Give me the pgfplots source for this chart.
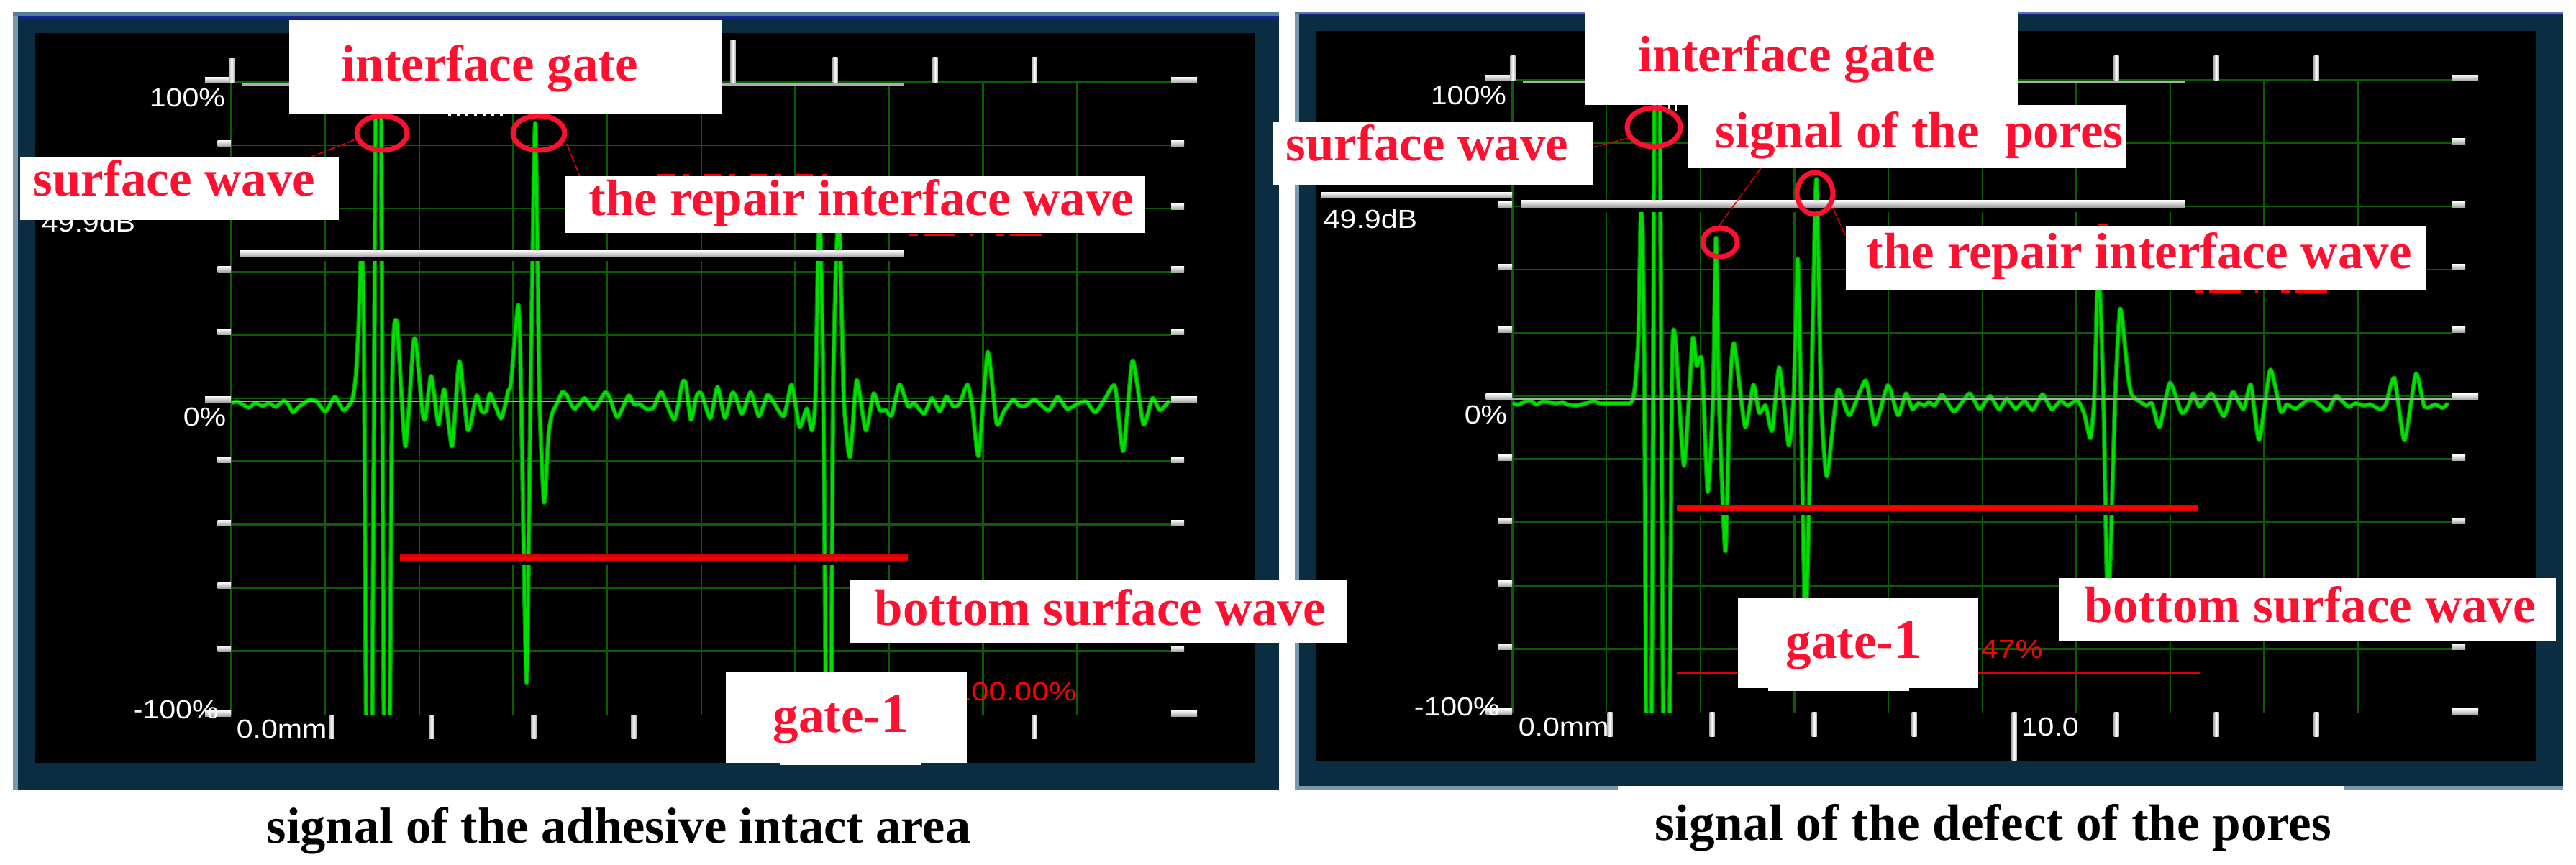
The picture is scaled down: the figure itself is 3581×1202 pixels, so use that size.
\documentclass[border=0pt]{standalone}
\usepackage{fontspec}
\setmainfont{Liberation Serif}
\newfontfamily\ls{Liberation Sans}
\usepackage{graphicx}
\usepackage{pgfplots}
\usepackage{pgfplotstable}
\pgfplotsset{compat=1.18}
\definecolor{teal0}{HTML}{0B2D42}
\definecolor{edge0}{HTML}{7A97AD}
\definecolor{edge1}{HTML}{5A7A9A}
\definecolor{dblue}{HTML}{14248C}
\definecolor{gridg}{HTML}{0A6000}
\definecolor{wave}{HTML}{00E000}
\definecolor{waved}{HTML}{008A00}
\definecolor{rtxt}{HTML}{FF1030}
\definecolor{rgate}{HTML}{E00000}
% x: px offset from the left grid line (139.5 px = 2 mm); y: percent of full screen
\pgfplotstableread{
u p
0 -1.5
8 -1.1
15 -1.9
25 -3.0
33 -1.5
44 -2.5
52 -1.5
62 -2.7
73 -0.8
79 -1.9
86 -4.5
94 -2.7
109 -0.5
119 -1.1
131 -4.2
144 0.4
156 -3.8
167 -1.1
171 2.7
174 9.5
177 23
180.5 46
183 40
185 0
191.5 -250
198.5 0
204.5 250
210 0
216 -250
223.5 0
230 24.2
242 -15.2
253 17
257 17
266 -4.9
270 -6.1
278 7
288 -8.3
296 2.8
307 -15.2
317 11.7
329 -10.2
341 0.8
348 -4.2
354 -4.2
360 1.5
375 -6.4
385 2.3
389 4.9
399 29.5
403 0
410.5 -90
416 0
422.5 87
428.5 0
435 -33
441 -11.7
446 -4.9
454 -1.1
460 1.9
466 1.1
477 -3.4
491 0
504 -3.4
520 1.9
527 -0.4
537 -6.1
552 0.8
560 -1.9
568 -1.9
577 -3.4
587 -3
598 1.9
616 -6.8
627 4.9
632 4.5
639 -6.8
647 0.8
653.5 1.5
666 -6.4
676 3.6
686 -6.3
696 1.5
701 0.8
710 -4.9
722 1.9
733.5 -5.7
745 0.9
751.5 -0.4
768 -5.7
779 4.3
790 -9.1
800 -3.3
807 -10.2
812 0
817.5 60
823 0
831 -200
836.5 0
844.5 60
851.5 0
860 -18.6
869.5 5.7
882 -10.2
893 1.5
901.5 -3.8
910 -3.8
918 -5.5
929 4.3
941 -2.7
949 -1.5
963 -4.9
974 0
985 -4.2
994 0.5
1003.5 -2.5
1012 -1.9
1023.5 4.3
1030.5 -3.4
1039 -18.2
1051.5 14.6
1064 -8
1074 -4.2
1087 -0.4
1095 -2.3
1103.5 -2.5
1116 -0.4
1126.5 -2.3
1137 -3.8
1149 0.4
1162 -3.4
1178.5 -1.5
1189 -1.1
1201 -4.5
1214 -0.4
1228.5 3.8
1240 -16.7
1253 11.9
1268 -8.3
1280.5 0
1291 -3.8
1304 -0.8
}\waveA
\pgfplotstableread{
u p
0 -2.3
8 -2.7
16 -1.9
25 -1.3
33 -2.7
43 -1.7
60 -2.3
70 -2
77 -2.7
89 -3
102 -2.3
114 -1.5
122 -2.3
162 -2.3
167.5 -0.8
170.5 3.4
175 18.6
178.5 57.7
181 50
183.5 0
190 -250
195.5 0
201 250
207 0
214 -250
221.5 0
226 19.3
238.5 -22
250.5 18
256 9.5
263.5 11.1
271.5 -30.3
279 0
283 50
287 0
296 -49
302 0
308 16.7
323.5 -9.8
335 3.6
343 -5.3
352 -3
361 -11
371 9.1
384 -15.5
391 0
396.5 43.4
401 0
407.5 -75
415.5 0
422.5 68.6
429 0
437 -25.4
452 1.9
468.5 -6.1
491 4.9
504 -9.1
522 3.4
536 -6.1
547 0.8
556 -4.2
564 -2.3
572.5 -3
579 -1.9
587 -3
597.5 0.4
614 -4.9
635 0.8
647.5 -3.8
651.5 -3.8
664 0
676.5 -4.2
687 -0.8
699.5 -4
712 -1.5
723 -4.5
737 0.5
749.5 -4.2
762 -1.5
772 -3
785.5 -1.3
795 -5.7
803.5 -13.3
809 0
814.5 42
821.5 0
828 -68
838 0
845 27.6
855.5 7
860 0.8
868 -1.1
881 -3
889 -2.3
899.5 -9.8
914 4.2
930 -5.3
939 -3.4
946.5 0.8
955.5 -3.4
972 0.8
989 -6.4
1001.5 1.3
1016 -4.2
1026.5 3.6
1038 -13.9
1053.5 8.3
1068 -4.9
1076.5 -2.7
1089 -4
1103.5 -1.5
1114 -1.3
1133 -4.5
1145 0
1162 -3.4
1172 -2.3
1183 -3
1193 -2.7
1206 -4.2
1214 -2.7
1226 5.7
1240 -14
1256 7
1268 -3.4
1283 -2.7
1293 -3.8
1300.5 -2.3
}\waveB
\pgfplotsset{screen/.style={
  scale only axis,width=326.625pt,height=219.875pt,
  anchor=south west,
  xmin=0,xmax=1306.5,ymin=-100,ymax=100,
  xtick={0,130.65,261.3,391.95,522.6,653.25,783.9,914.55,1045.2,1175.85},
  ytick={-80,-60,-40,-20,0,20,40,60,80,100},
  xticklabels={},yticklabels={},
  grid=major,
  grid style={gridg,line width=0.62pt},
  axis line style={draw=none},
  tick style={draw=none},
}}
% px-coordinate helpers
\newcommand\BH[3]{\shade[top color=white,bottom color=gray!70] (#1,#3-4) rectangle (#2,#3+4);}
\newcommand\BV[3]{\shade[left color=gray!60,right color=gray!60,middle color=white] (#1-3.5,#2) rectangle (#1+3.5,#3);}
\newcommand\wtxt[3]{\node[anchor=base west,inner sep=0pt,text=white] at (#1,#2) {\fontsize{9.1}{10}\ls\scalebox{1.13}[1]{#3}};}
\newcommand\rtx[3]{\node[anchor=base west,inner sep=0pt,text=red] at (#1,#2) {\fontsize{9.1}{10}\ls\scalebox{1.18}[1]{#3}};}
\newcommand\ann[3]{\node[anchor=base west,inner sep=0pt,text=rtxt] at (#1,#2) {\fontsize{17.75}{20}\selectfont\bfseries #3};}
\newcommand\gatew[4]{\fill[black] (#1,#3-5) rectangle (#2,#4);\shade[top color=white,bottom color=gray!75] (#1,#3-5) rectangle (#2,#3+4.5);}
\newcommand\gater[4]{\fill[black] (#1,#3-4.5) rectangle (#2,#4);\fill[red!85!black] (#1,#3-4.5) rectangle (#2,#3+4.5);\fill[red] (#1,#3-2) rectangle (#2,#3+2);}
\begin{document}
\begin{tikzpicture}
\begin{scope}[x=0.25pt,y=-0.25pt]
\useasboundingbox (0,0) rectangle (3581,1202);
\fill[white] (0,0) rectangle (3581,1202);
% left frame
\fill[edge0] (18,16) rectangle (1778,1099);
\fill[edge1] (18,16) rectangle (1778,22);
\fill[dblue] (25,22) rectangle (1778,26);
\fill[teal0] (25,26) rectangle (1778,1097.5);
\fill[black] (49,45.5) rectangle (1745,1061);
% right frame
\fill[edge0] (1800,16) rectangle (3563,1099);
\fill[edge1] (1800,16) rectangle (3563,19);
\fill[dblue] (1806,19) rectangle (3563,21);
\fill[teal0] (1806,21) rectangle (3563,1093);
\fill[white] (2249,1093) rectangle (3258,1100);
\fill[black] (1830,43) rectangle (3526,1057.5);
\coordinate (A) at (321.5,993.5);
\coordinate (B) at (2102.5,990.5);
\end{scope}

\begin{axis}[screen,at={(A)}]
\addplot[waved,line width=1.6pt,line join=round,smooth,tension=0.35] table[x=u,y=p] {\waveA};
\addplot[wave,line width=1pt,line join=round,smooth,tension=0.35] table[x=u,y=p] {\waveA};
\end{axis}
\begin{axis}[screen,at={(B)}]
\addplot[waved,line width=1.6pt,line join=round,smooth,tension=0.35] table[x=u,y=p] {\waveB};
\addplot[wave,line width=1pt,line join=round,smooth,tension=0.35] table[x=u,y=p] {\waveB};
\end{axis}

\begin{scope}[x=0.25pt,y=-0.25pt]
%% LEFT PANEL
\fill[gray!65] (336,115.5) rectangle (1256,118.5);
\fill[gray!65] (321.5,556.7) rectangle (1628,558.7);
\gatew{333}{1256}{353}{363}
\gater{556}{1262}{775.5}{786}
\foreach \y in {199,287,374,461.5,639.5,727,814,902}{\BH{302.5}{321}{\y}\BH{1628}{1646}{\y}}
\foreach \y in {111,555,992}{\BH{285}{321}{\y}\BH{1628}{1664}{\y}}
\BV{322}{80}{114}
\foreach \x in {1019,1161,1300,1438}{\BV{\x}{79}{114}}
\BV{1019}{55}{114}
\foreach \x in {461,600,742,881,1161,1300,1438}{\BV{\x}{994}{1027}}
\wtxt{207}{148}{100\%}
\wtxt{254}{592}{0\%}
\wtxt{184}{999}{-100\%}
\wtxt{328}{1026}{0.0mm}
\wtxt{57}{322}{49.9dB}
\rtx{1326}{974}{100.00\%}
\draw[red,line width=0.8pt,dash pattern=on 6pt off 3pt on 2pt off 5pt] (914,243.5) -- (1170,243.5);
\draw[red,line width=0.9pt,dash pattern=on 3pt off 2pt on 11pt off 5pt on 1pt off 8pt] (1264,326.5) -- (1457,326.5);
\draw[white,line width=0.6pt,dash pattern=on 1pt off 2pt] (623,159.5) -- (706,159.5);
\draw[red!85!black,line width=0.4pt,dash pattern=on 3pt off 0.7pt] (494,194) -- (433,218);
\draw[red!85!black,line width=0.4pt,dash pattern=on 3pt off 0.7pt] (788,200) -- (806,245);
\draw[rtxt,line width=1.75pt] (531,185) ellipse (35 and 24);
\draw[rtxt,line width=1.75pt] (749,185) ellipse (36 and 24);
%% RIGHT PANEL
\fill[gray!65] (2117,112.5) rectangle (3037,115.5);
\fill[gray!65] (2102,554) rectangle (3409,556);
\BH{1836}{2102}{271}
\gatew{2114}{3037}{283.5}{294.6}
\gater{2331}{3055}{706}{716}
\fill[red!90!black] (2331,933.5) rectangle (3058,936.5);
\foreach \y in {196,284,371,458,636.5,724,811.5,899}{\BH{2083}{2102}{\y}\BH{3409}{3427}{\y}}
\foreach \y in {108,551.5,989.5}{\BH{2065.5}{2102}{\y}\BH{3409}{3445}{\y}}
\BV{2103}{77}{111}
\foreach \x in {2942,3081,3220}{\BV{\x}{77}{111}}
\foreach \x in {2238,2380,2522,2661,2942,3081,3220}{\BV{\x}{990}{1024}}
\BV{2800}{990}{1057.5}
\wtxt{1988}{145}{100\%}
\wtxt{2035}{589}{0\%}
\wtxt{1965}{995}{-100\%}
\wtxt{2110}{1023}{0.0mm}
\wtxt{1839}{317.5}{49.9dB}
\wtxt{2809}{1023}{10.0}
\rtx{2753}{915}{47\%}
\draw[red,line width=0.9pt,dash pattern=on 3pt off 2pt on 11pt off 5pt on 1pt off 8pt] (3051,405) -- (3244,405);
\fill[red] (2916,311) rectangle (2931,316);
\draw[white,line width=0.6pt] (2320,146) -- (2320,155) (2330,146) -- (2330,155);
\draw[red!85!black,line width=0.4pt,dash pattern=on 3pt off 0.7pt] (2263.6,192) -- (2213.6,205);
\draw[red!85!black,line width=0.4pt,dash pattern=on 3pt off 0.7pt] (2448.5,233) -- (2389,315);
\draw[red!85!black,line width=0.4pt,dash pattern=on 3pt off 0.7pt] (2548,289) -- (2565,327);
\draw[rtxt,line width=1.75pt] (2299,177) ellipse (37 and 27);
\draw[rtxt,line width=1.75pt] (2391,337) ellipse (24 and 20);
\draw[rtxt,line width=1.75pt] (2523,269) ellipse (25 and 29);
%% WHITE BOXES
\fill[white] (402,28) rectangle (1003,158);
\fill[white] (28,218) rectangle (471,306);
\fill[white] (785,245) rectangle (1592,323.5);
\fill[white] (1181,807) rectangle (1872,894);
\fill[white] (1009,933.6) rectangle (1344,1061);
\fill[white] (1084,1061) rectangle (1281,1064);
\fill[white] (2204,0) rectangle (2805,146);
\fill[white] (1770,170) rectangle (2213.6,257);
\fill[white] (2346,146) rectangle (2956,233);
\fill[white] (2566,315) rectangle (3372,402.5);
\fill[white] (2862,804) rectangle (3553,892);
\fill[white] (2416,831.5) rectangle (2750,957);
\fill[white] (2458,957) rectangle (2654,960.5);
%% LABELS
\ann{474}{112}{interface gate}
\ann{45}{272}{surface wave}
\ann{818}{299}{the repair interface wave}
\ann{1215}{869}{bottom surface wave}
\ann{1074}{1018}{gate-{\fontsize{19.5}{20}\selectfont 1}}
\ann{2277}{99}{interface gate}
\ann{1787}{223.5}{surface wave}
\ann{2384}{205.6}{signal of the\hspace{0.5em}pores}
\ann{2594}{373.7}{the repair interface wave}
\ann{2897}{865.6}{bottom surface wave}
\ann{2482}{915}{gate-{\fontsize{19.5}{20}\selectfont 1}}
\node[anchor=base west,inner sep=0pt,text=black] at (370,1172) {\fontsize{17.6}{20}\selectfont\bfseries signal of the adhesive intact area};
\node[anchor=base west,inner sep=0pt,text=black] at (2300,1168) {\fontsize{17.8}{20}\selectfont\bfseries signal of the defect of the pores};
\end{scope}
\end{tikzpicture}
\end{document}
